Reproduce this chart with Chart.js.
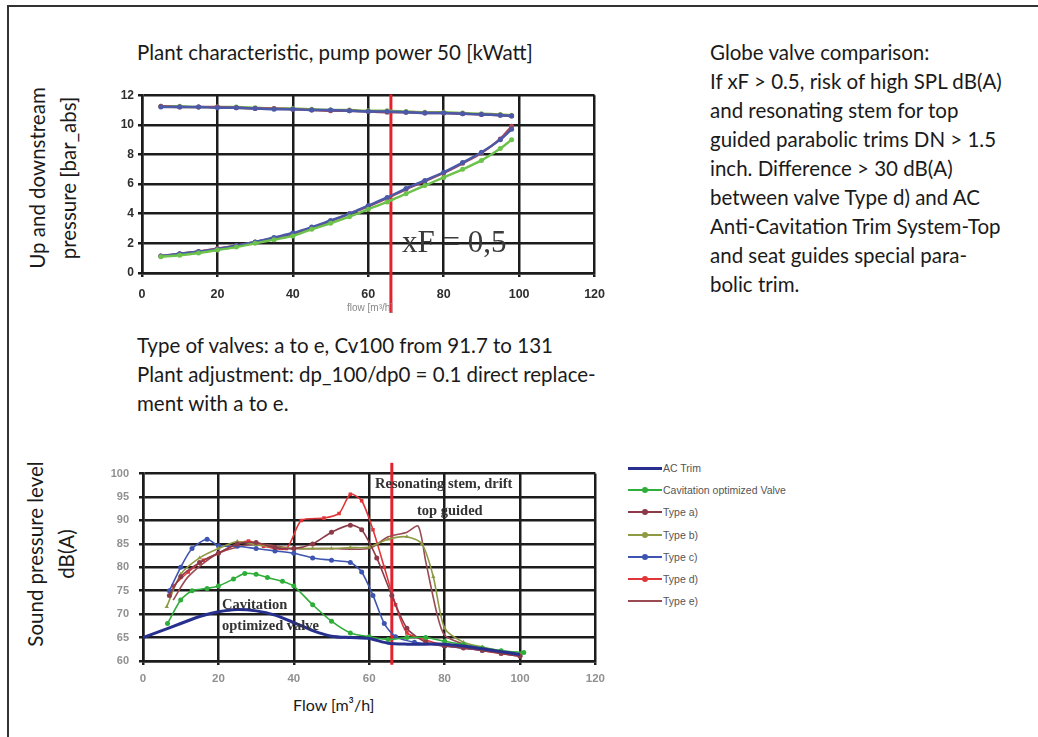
<!DOCTYPE html>
<html>
<head>
<meta charset="utf-8">
<script src="https://cdn.jsdelivr.net/npm/chart.js@4.4.1/dist/chart.umd.min.js"></script>
<style>
  body { margin: 0; background: #fff; width: 1038px; height: 737px; overflow: hidden; position: relative; font-family: Lato, "Noto Sans", sans-serif; color: #1a1a1a; }
  .frame { position: absolute; left: 7px; top: 5px; right: 0; bottom: 0; border-left: 2px solid #333; border-top: 2px solid #333; }
  .txt { position: absolute; font-size: 20.5px; line-height: 29px; white-space: nowrap; }
  .ytitle { position: absolute; transform: rotate(-90deg); transform-origin: center center; font-size: 20.5px; line-height: 31px; text-align: center; white-space: nowrap; }
  .note { position: absolute; font-family: "Liberation Serif", serif; color: #333; white-space: nowrap; }
  .cv { position: absolute; }
  #legend { position: absolute; left: 628px; top: 457px; font-family: "Liberation Sans", Arial, sans-serif; font-size: 10.5px; color: #555; }
  #legend .row { height: 22.2px; display: flex; align-items: center; }
  #legend .sample { position: relative; width: 34px; height: 2px; margin-right: 1px; }
  #legend .dot { position: absolute; left: 14px; top: -2px; width: 6px; height: 6px; border-radius: 3px; }
</style>
</head>
<body>
<div class="frame"></div>

<div class="txt" style="left:137px; top:38px;">Plant characteristic, pump power 50 [kWatt]</div>
<div class="txt" style="left:710px; top:38px;">Globe valve comparison:<br>If xF &gt; 0.5, risk of high SPL dB(A)<br>and resonating stem for top<br>guided parabolic trims DN &gt; 1.5<br>inch. Difference &gt; 30 dB(A)<br>between valve Type d) and AC<br>Anti-Cavitation Trim System-Top<br>and seat guides special para-<br>bolic trim.</div>
<div class="txt" style="left:137px; top:331px;">Type of valves: a to e, Cv100 from 91.7 to 131<br>Plant adjustment: dp_100/dp0 = 0.1 direct replace-<br>ment with a to e.</div>

<div class="ytitle" style="left:-57px; top:147px; width:220px;">Up and downstream<br>pressure [bar_abs]</div>
<div class="ytitle" style="left:-59px; top:523px; width:220px;">Sound pressure level<br>dB(A)</div>

<canvas id="topChart" class="cv" style="left:100px; top:84px;"></canvas>
<canvas id="bottomChart" class="cv" style="left:100px; top:457px;"></canvas>

<div class="note" style="left:402px; top:224px; font-size:31px; color:#3a3a3a;">xF = 0,5</div>
<div class="note" style="left:347px; top:302px; font-size:10px; font-family:'Liberation Sans',sans-serif; color:#888;">flow [m³/h]</div>
<div class="note" style="left:375px; top:475px; font-size:14.5px; font-weight:bold;">Resonating stem, drift</div>
<div class="note" style="left:417px; top:502px; font-size:14.5px; font-weight:bold;">top guided</div>
<div class="note" style="left:222px; top:596px; font-size:14.5px; font-weight:bold;">Cavitation</div>
<div class="note" style="left:222px; top:617px; font-size:14.5px; font-weight:bold;">optimized valve</div>
<div class="txt" style="left:293px; top:692px; font-size:16px; line-height:26px;">Flow [m³/h]</div>

<div id="legend"></div>

<script>
// ---- top chart: plant characteristic ----
const flowTop = [5, 10, 15, 20, 25, 30, 35, 40, 45, 50, 55, 60, 65, 70, 75, 80, 85, 90, 95, 98];
const upGreen = [11.25, 11.25, 11.2, 11.2, 11.2, 11.15, 11.1, 11.1, 11.05, 11.0, 11.0, 10.95, 10.95, 10.9, 10.85, 10.85, 10.8, 10.75, 10.7, 10.65];
const upBlue = [11.2, 11.2, 11.2, 11.15, 11.15, 11.1, 11.05, 11.05, 11.0, 11.0, 10.95, 10.9, 10.9, 10.85, 10.8, 10.8, 10.75, 10.7, 10.65, 10.6];
const upRed = [11.25, 11.2, 11.2, 11.2, 11.15, 11.1, 11.1, 11.05, 11.0, 10.95, 10.95, 10.9, 10.85, 10.85, 10.8, 10.8, 10.75, 10.7, 10.65, 10.6];
const downGreen = [1.1, 1.2, 1.35, 1.55, 1.75, 2.0, 2.25, 2.5, 2.95, 3.35, 3.8, 4.3, 4.8, 5.35, 5.9, 6.45, 7.0, 7.6, 8.4, 9.0];
const downBlue = [1.15, 1.3, 1.45, 1.6, 1.85, 2.1, 2.4, 2.7, 3.1, 3.55, 4.0, 4.55, 5.1, 5.7, 6.25, 6.8, 7.45, 8.15, 9.0, 9.7];
const downRed = [1.15, 1.3, 1.45, 1.65, 1.85, 2.1, 2.35, 2.65, 3.05, 3.5, 4.0, 4.5, 5.05, 5.65, 6.2, 6.75, 7.4, 8.1, 9.05, 9.9];

// ---- bottom chart: sound pressure level ----
const acTrimFlow = [0, 5, 10, 15, 20, 25, 30, 35, 40, 45, 50, 55, 60, 65, 70, 75, 80, 85, 90, 95, 100];
const acTrimSpl = [65, 66.5, 68, 69.5, 70.5, 71, 70.7, 69.8, 68.2, 66.5, 65.3, 65, 64.8, 63.8, 63.6, 63.6, 63.6, 63.2, 62.6, 62, 61.4];
const cavFlow = [6.5, 10, 13, 17, 20, 24, 27, 30, 33, 37, 40, 45, 50, 55, 60, 65, 70, 75, 80, 85, 90, 95, 101];
const cavSpl = [68, 73, 75, 75.5, 76, 77.5, 78.7, 78.5, 77.8, 77, 76, 72, 68.5, 66, 65.2, 64.6, 65, 65, 64.2, 63.5, 62.8, 62.2, 61.8];
const typeAFlow = [7, 10, 15, 20, 25, 30, 35, 40, 45, 50, 55, 58, 62, 66, 70, 75, 80, 85, 90, 95, 100];
const typeASpl = [74, 78, 81, 83, 85, 85.3, 84.2, 84, 85, 87.5, 89, 88, 82, 74, 67, 64, 63.2, 62.8, 62.3, 61.6, 61];
const typeBFlow = [6.3, 10, 15, 20, 25, 30, 35, 40, 45, 50, 55, 60, 65, 70, 74, 77, 80, 85, 90, 95, 100];
const typeBSpl = [71.6, 78.5, 82, 84, 85.5, 84.8, 84.3, 84, 84, 84, 84.2, 84.3, 86, 86.5, 85, 78, 67, 64, 63, 62.2, 61.5];
const typeCFlow = [7, 10, 13, 17, 20, 25, 30, 35, 40, 45, 50, 55, 58, 61, 64, 67, 72, 80, 90, 100];
const typeCSpl = [75, 80, 84, 86, 84.6, 84.5, 84, 83.5, 83, 82, 81.5, 81, 79, 74, 68, 65.2, 64, 63.2, 62.3, 61.2];
const typeDFlow = [8, 12, 16, 20, 25, 28, 32, 38, 42, 48, 52, 55, 58, 61, 64, 67, 70, 75, 80, 85, 90, 95, 100];
const typeDSpl = [76, 79, 81.5, 83, 85, 85.6, 84.5, 84, 90, 90.5, 91.5, 95.6, 94.2, 88, 80, 72, 66, 64.5, 63.3, 62.8, 62.2, 61.6, 61];
const typeEFlow = [8, 12, 20, 30, 40, 50, 60, 65, 70, 73, 75, 78, 80, 85, 90, 95, 100];
const typeESpl = [73, 78, 83, 85, 84, 84, 84, 86.5, 87.5, 88.8, 81.2, 70, 65.5, 63.6, 62.6, 61.8, 61.2];

// xF = 0.5 marker line
const xfFlow = 66;
const xfTopRange = [-2.7, 12.05];
const xfBottomRange = [59.2, 102.3];

const pts = (xs, ys) => xs.map((x, i) => ({ x: x, y: ys[i] }));

function fixedWidth(w) { return (scale) => { scale.width = w; }; }
function fixedHeight(h) { return (scale) => { scale.height = h; }; }

const gridLine = { color: "#1c1c1c", lineWidth: 2.5, tickLength: 4, tickColor: "#1c1c1c", tickWidth: 2.5 };

function topSeries(data, color) {
  return {
    data: pts(flowTop, data),
    showLine: true,
    borderColor: color,
    backgroundColor: color,
    borderWidth: 2.4,
    pointRadius: 2.5,
    pointBorderWidth: 0,
    tension: 0.3,
  };
}

const topCanvas = document.getElementById("topChart");
topCanvas.width = 515;
topCanvas.height = 231;
new Chart(topCanvas, {
  type: "scatter",
  data: {
    datasets: [
      topSeries(upBlue, "#4b5aa8"),
      topSeries(upRed, "#a8475a"),
      topSeries(upGreen, "#78b84a"),
      topSeries(downGreen, "#6cc24a"),
      topSeries(downBlue, "#4b5aa8"),
      topSeries(downRed, "#a8475a"),
      {
        data: [{ x: xfFlow, y: xfTopRange[0] }, { x: xfFlow, y: xfTopRange[1] }],
        showLine: true,
        borderColor: "#e2232e",
        borderWidth: 3,
        pointRadius: 0,
        clip: false,
      },
    ],
  },
  options: {
    responsive: false,
    animation: false,
    layout: { padding: { top: 10, right: 12, left: 0, bottom: 0 } },
    plugins: { legend: { display: false }, tooltip: { enabled: false } },
    scales: {
      x: {
        type: "linear",
        min: 0,
        max: 120,
        ticks: { stepSize: 20, padding: 10, color: "#2e2e2e", font: { family: "Liberation Sans", size: 12.5, weight: "bold" } },
        grid: gridLine,
        border: { color: "#1c1c1c", width: 2.5 },
        afterFit: fixedHeight(42),
      },
      y: {
        min: 0,
        max: 12,
        ticks: { stepSize: 2, padding: 4, color: "#2e2e2e", font: { family: "Liberation Sans", size: 12, weight: "bold" } },
        grid: gridLine,
        border: { color: "#1c1c1c", width: 2.5 },
        afterFit: fixedWidth(42),
      },
    },
  },
});

function splSeries(label, xs, ys, color, marker, style) {
  return {
    label: label,
    data: pts(xs, ys),
    borderColor: color,
    backgroundColor: color,
    borderWidth: marker ? 1.6 : 3,
    pointRadius: marker ? 2.5 : 0,
    pointStyle: style || "circle",
    pointBorderWidth: 0,
    tension: 0.25,
    showLine: true,
  };
}

const splDatasets = [
  splSeries("AC Trim", acTrimFlow, acTrimSpl, "#27308f", false),
  splSeries("Cavitation optimized Valve", cavFlow, cavSpl, "#2fae3a", true),
  splSeries("Type a)", typeAFlow, typeASpl, "#8c3a48", true),
  splSeries("Type b)", typeBFlow, typeBSpl, "#8f9a45", true, "triangle"),
  splSeries("Type c)", typeCFlow, typeCSpl, "#3d55b0", true),
  splSeries("Type d)", typeDFlow, typeDSpl, "#e0363a", true, "rect"),
  splSeries("Type e)", typeEFlow, typeESpl, "#9a4a52", false),
];
splDatasets[6].borderWidth = 1.6;

const bottomCanvas = document.getElementById("bottomChart");
bottomCanvas.width = 512;
bottomCanvas.height = 234;
new Chart(bottomCanvas, {
  type: "scatter",
  data: {
    datasets: splDatasets.concat([
      {
        label: "xF",
        data: [{ x: xfFlow, y: xfBottomRange[0] }, { x: xfFlow, y: xfBottomRange[1] }],
        showLine: true,
        borderColor: "#e2232e",
        borderWidth: 3,
        pointRadius: 0,
        clip: false,
      },
    ]),
  },
  options: {
    responsive: false,
    animation: false,
    layout: { padding: { top: 14, right: 12, left: 0, bottom: 0 } },
    plugins: { legend: { display: false }, tooltip: { enabled: false } },
    scales: {
      x: {
        type: "linear",
        min: 0,
        max: 120,
        ticks: { stepSize: 20, padding: 7, color: "#909090", font: { family: "Liberation Sans", size: 11.5, weight: "bold" } },
        grid: gridLine,
        border: { color: "#1c1c1c", width: 2.5 },
        afterFit: fixedHeight(30),
      },
      y: {
        min: 60,
        max: 100,
        ticks: { stepSize: 5, padding: 10, color: "#909090", font: { family: "Liberation Sans", size: 11, weight: "bold" } },
        grid: gridLine,
        border: { color: "#1c1c1c", width: 2.5 },
        afterFit: fixedWidth(43),
      },
    },
  },
});

// legend built from the same series
const legend = document.getElementById("legend");
splDatasets.forEach((ds) => {
  const row = document.createElement("div");
  row.className = "row";
  const sample = document.createElement("span");
  sample.className = "sample";
  sample.style.background = ds.borderColor;
  sample.style.height = ds.borderWidth > 2 ? "3px" : "2px";
  if (ds.pointRadius > 0) {
    const dot = document.createElement("span");
    dot.className = "dot";
    dot.style.background = ds.borderColor;
    sample.appendChild(dot);
  }
  row.appendChild(sample);
  row.appendChild(document.createTextNode(ds.label));
  legend.appendChild(row);
});
</script>
</body>
</html>
